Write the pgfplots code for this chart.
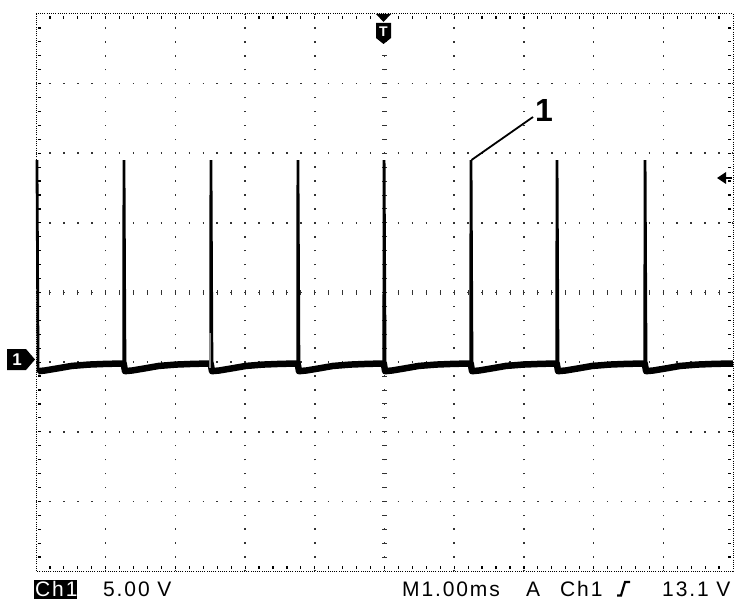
\documentclass[border=0pt]{standalone}
\usepackage{fontspec}
\setmainfont{Liberation Sans}
\newfontfamily\scopefont[LetterSpace=9]{Liberation Sans}
\usepackage{pgfplots}
\pgfplotsset{compat=1.18}
\usepackage{pgfplotstable}

\pgfplotstableread{
x y
0.014 1.90
0.030 -1.13
0.130 -1.12
0.310 -1.09
0.510 -1.055
0.760 -1.035
1.010 -1.025
1.258 -1.02
1.262 1.90
1.277 -1.13
1.380 -1.12
1.560 -1.09
1.760 -1.055
2.010 -1.035
2.260 -1.025
2.506 -1.02
2.510 1.90
2.525 -1.13
2.630 -1.12
2.810 -1.09
3.010 -1.055
3.260 -1.035
3.510 -1.025
3.754 -1.02
3.758 1.90
3.773 -1.13
3.880 -1.12
4.060 -1.09
4.260 -1.055
4.510 -1.035
4.760 -1.025
4.990 -1.02
4.994 1.90
5.009 -1.13
5.110 -1.12
5.290 -1.09
5.490 -1.055
5.740 -1.035
5.990 -1.025
6.237 -1.02
6.241 1.90
6.256 -1.13
6.360 -1.12
6.540 -1.09
6.740 -1.055
6.990 -1.035
7.240 -1.025
7.471 -1.02
7.475 1.90
7.490 -1.13
7.600 -1.12
7.780 -1.09
7.980 -1.055
8.230 -1.035
8.480 -1.025
8.734 -1.02
8.738 1.90
8.753 -1.13
8.860 -1.12
9.040 -1.09
9.240 -1.055
9.490 -1.035
9.740 -1.025
10.00 -1.02
}\trace

\begin{document}
\begin{tikzpicture}
\useasboundingbox (-36pt,-35pt) rectangle (706pt,571pt);
\fill[white] (-36pt,-35pt) rectangle (706pt,571pt);
\begin{scope}[x=69.7pt,y=69.625pt]
  % graticule
  \foreach \i in {1,...,9}
    \draw[black!80, line width=1.5pt, dash pattern=on 1.5pt off 12.425pt, dash phase=0.75pt] (\i,0) -- (\i,8);
  \foreach \j in {1,...,7}
    \draw[black!80, line width=1.5pt, dash pattern=on 1.5pt off 12.44pt, dash phase=0.75pt] (0,\j) -- (10,\j);
  % centre ticks
  \foreach \k in {1,...,49}
    \draw[black!80, line width=0.9pt] (\k/5,4) ++(0,-2.5pt) -- ++(0,5pt);
  \foreach \k in {1,...,39}
    \draw[black!80, line width=0.9pt] (5,\k/5) ++(-2.5pt,0) -- ++(5pt,0);
  % border
  \draw[black, line width=1pt, dash pattern=on 1pt off 1.2pt] (0,0) rectangle (10,8);
  \foreach \k in {1,...,49} {
    \draw[black, line width=1.2pt] (\k/5,0) ++(0,2pt) -- ++(0,3pt);
    \draw[black, line width=1.2pt] (\k/5,8) ++(0,-2pt) -- ++(0,-3pt);
  }
  \foreach \k in {1,...,39} {
    \draw[black, line width=1.2pt] (0,\k/5) ++(2pt,0) -- ++(3pt,0);
    \draw[black, line width=1.2pt] (10,\k/5) ++(-2pt,0) -- ++(-3pt,0);
  }
\end{scope}

\begin{axis}[at={(0,0)}, anchor=south west, scale only axis,
  width=697pt, height=557pt, xmin=0, xmax=10, ymin=-4, ymax=4,
  axis lines=none, clip=false]
  \addplot[black, line width=6.5pt, line join=round, restrict y to domain=-10:0, unbounded coords=discard] table {\trace};
  \addplot[black, line width=2.8pt] table {\trace};
  \addplot[black!45, line width=1.5pt] coordinates {(2.497,-0.58) (2.497,-1.08)};
\end{axis}

% annotation "1"
\draw[line width=1.8pt] (435.5pt,411pt) -- (497pt,454pt);
\node[font=\bfseries\fontsize{32}{32}\selectfont, inner sep=0] at (508pt,461pt) {1};

% trigger position marker T
\fill (340pt,557pt) -- (355pt,557pt) -- (347.5pt,549pt) -- cycle;
\fill (340pt,548pt) -- (355pt,548pt) -- (355pt,533pt) -- (347.5pt,527pt) -- (340pt,533pt) -- cycle;
\node[white, font=\bfseries\fontsize{14}{14}\selectfont, inner sep=0] at (347.5pt,539pt) {T};

% ground marker
\fill (-29pt,222pt) -- (-10pt,222pt) -- (-1pt,211.5pt) -- (-10pt,201pt) -- (-29pt,201pt) -- cycle;
\node[white, font=\bfseries\fontsize{17}{17}\selectfont, inner sep=0] at (-19pt,211.5pt) {1};

% trigger level marker
\fill (681pt,393pt) -- (690pt,399pt) -- (690pt,387pt) -- cycle;
\draw[line width=1.8pt] (689pt,393pt) -- (696pt,393pt);

% status line
\fill (-2pt,-9pt) rectangle (41pt,-28pt);
\begin{scope}[every node/.style={inner sep=0, anchor=base west, font=\scopefont\fontsize{21}{22}\selectfont}]
  \node[white] at (-1pt,-25.5pt) {Ch1};
  \node at (67pt,-25.5pt) {5.00 V};
  \node at (366pt,-25.5pt) {M1.00ms};
  \node at (490pt,-25.5pt) {A};
  \node at (524pt,-25.5pt) {Ch1};
  \node at (626pt,-25.5pt) {13.1 V};
\end{scope}
\draw[line width=2.2pt] (581pt,-24.5pt) -- (585pt,-24.5pt) -- (589pt,-11pt) -- (594pt,-11pt);
\end{tikzpicture}
\end{document}
